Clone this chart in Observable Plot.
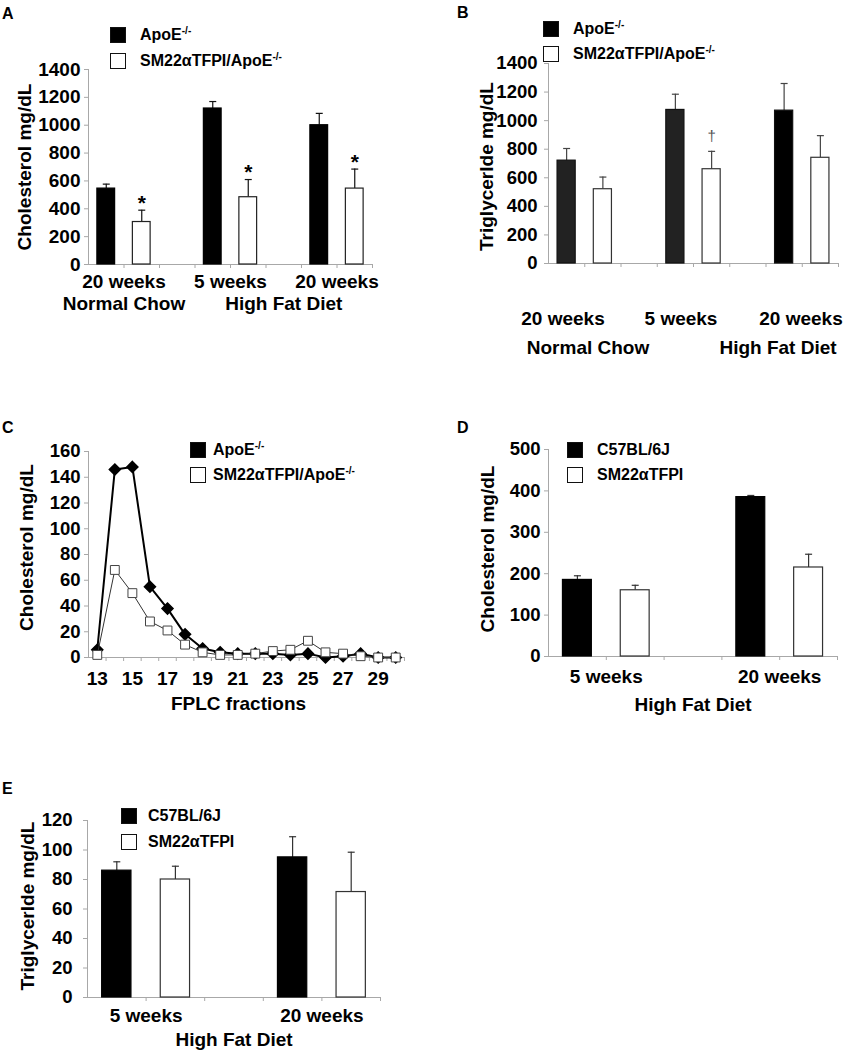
<!DOCTYPE html>
<html><head><meta charset="utf-8">
<script src="https://cdn.jsdelivr.net/npm/d3@7"></script>
<script src="https://cdn.jsdelivr.net/npm/@observablehq/plot@0.6"></script>
<style>
body{margin:0;background:#fff;}
#fig{position:relative;width:852px;height:1050px;overflow:hidden;background:#fff;font-family:"Liberation Sans",Arial,Helvetica,sans-serif;font-weight:bold;color:#000;}
.panel{position:absolute;}
.panel svg{overflow:visible;}
.letter{position:absolute;font-size:16px;line-height:16px;}
.lrow{position:absolute;height:16px;white-space:nowrap;}
.sw{position:absolute;width:16px;height:16px;box-sizing:border-box;border:1.5px solid #111;}
.ltxt{position:absolute;top:0;font-size:16px;line-height:16px;}
.ltxt sup{font-size:10px;position:relative;top:-1px;vertical-align:top;line-height:10px;}
.lbl{position:absolute;font-size:19px;white-space:nowrap;transform:translate(-50%,-50%);}
</style></head><body><div id="fig"></div><script>
// ---------------- data ----------------
const apoeSeries = ["ApoE-/-", "SM22αTFPI/ApoE-/-"];
const wtSeries = ["C57BL/6J", "SM22αTFPI"];
const groupsAB = ["20 weeks", "5 weeks", "20 weeks"];
const dietsAB = ["Normal Chow", "High Fat Diet", "High Fat Diet"];
const groupsDE = ["5 weeks", "20 weeks"];
const dietsDE = ["High Fat Diet", "High Fat Diet"];

// Panel A: plasma cholesterol (mg/dL)
const cholA_apoe = [545, 1120, 1000];
const cholA_apoe_err = [32, 50, 85];
const cholA_tfpi = [305, 483, 545];
const cholA_tfpi_err = [85, 127, 140];
const sigA_tfpi = ["*", "*", "*"];

// Panel B: plasma triglyceride (mg/dL)
const tgB_apoe = [720, 1075, 1070];
const tgB_apoe_err = [85, 110, 190];
const tgB_tfpi = [520, 660, 740];
const tgB_tfpi_err = [85, 125, 155];
const sigB_tfpi = ["", "†", ""];

// Panel C: FPLC cholesterol profile (mg/dL)
const fractions = [13, 14, 15, 16, 17, 18, 19, 20, 21, 22, 23, 24, 25, 26, 27, 28, 29, 30];
const fplcApoe = [6, 146, 148, 55, 38, 18, 7, 4, 3, 3, 3, 2, 3, 0, 1, 3, 0, 0];
const fplcTfpi = [2, 68, 50, 28, 21, 10, 4, 2, 2, 3, 5, 6, 13, 4, 3, 1, 0, 0];
const fractionLabels = [13, 15, 17, 19, 21, 23, 25, 27, 29];

// Panel D: cholesterol (mg/dL)
const cholD_wt = [185, 385];
const cholD_wt_err = [10, 4];
const cholD_tfpi = [160, 215];
const cholD_tfpi_err = [12, 32];

// Panel E: triglyceride (mg/dL)
const tgE_wt = [86, 95];
const tgE_wt_err = [6, 14];
const tgE_tfpi = [80, 71.5];
const tgE_tfpi_err = [9, 27];

// ---------------- helpers ----------------
const FONT = "'Liberation Sans', Arial, Helvetica, sans-serif";
const axisGray = "#a8a8a8";
const fig = document.getElementById("fig");
const capSymbol = {draw(ctx) { ctx.moveTo(-3.5, 0); ctx.lineTo(3.5, 0); }};
const diamondSymbol = {draw(ctx, size) { const r = Math.sqrt(size / 2); ctx.moveTo(0, -r); ctx.lineTo(r, 0); ctx.lineTo(0, r); ctx.lineTo(-r, 0); ctx.closePath(); }};
const plain = d => String(d);

function place(node, left, top) {
  const d = document.createElement("div");
  d.className = "panel";
  d.style.left = left + "px"; d.style.top = top + "px";
  d.appendChild(node);
  fig.appendChild(d);
}
function letter(t, left, top) {
  const d = document.createElement("div");
  d.className = "letter"; d.textContent = t;
  d.style.left = left + "px"; d.style.top = top + "px";
  fig.appendChild(d);
}
function labelHTML(name) {
  const m = name.match(/^(.*?)(-\/-)$/);
  return m ? `${m[1]}<sup>${m[2]}</sup>` : name;
}
function legend(names, fills, left, top, textLeft, pitch) {
  names.forEach((n, i) => {
    const row = document.createElement("div");
    row.className = "lrow";
    row.style.left = left + "px"; row.style.top = (top + i * pitch) + "px";
    const sw = document.createElement("div");
    sw.className = "sw"; sw.style.left = "0px"; sw.style.top = "0px"; sw.style.background = fills[i];
    const tx = document.createElement("div");
    tx.className = "ltxt"; tx.style.left = (textLeft - left) + "px"; tx.innerHTML = labelHTML(n);
    row.appendChild(sw); row.appendChild(tx);
    fig.appendChild(row);
  });
}
function freeLabel(t, cx, cy) {
  const d = document.createElement("div");
  d.className = "lbl"; d.textContent = t;
  d.style.left = cx + "px"; d.style.top = cy + "px";
  fig.appendChild(d);
}
function yLabelMark(text, dx, dy) {
  return Plot.text([text], {frameAnchor: "left", rotate: -90, dx, dy, fontSize: 19, fontWeight: "bold", fill: "#000", textAnchor: "middle", lineAnchor: "middle"});
}

function barPanel(c) {
  const rows = [];
  c.groups.forEach((g, gi) => c.series.forEach((s, si) => {
    rows.push({
      slot: gi * 3 + si,
      value: c.values[si][gi],
      err: c.errs[si][gi],
      flag: c.flags && c.flags[si] ? c.flags[si][gi] : "",
      fill: c.fills[si][gi],
      stroke: c.strokes[si]
    });
  }));
  const nSlots = c.groups.length * 3 - 1;
  const weekLabels = c.groups.map((g, gi) => ({x: gi * 3 + 1, text: g}));
  const dietLabels = Array.from(d3.group(c.groups.map((g, gi) => ({x: gi * 3 + 1, diet: c.diets[gi]})), d => d.diet),
    ([diet, arr]) => ({x: d3.mean(arr, d => d.x), text: diet}));
  const marks = [
    Plot.ruleY([0], {stroke: axisGray}),
    Plot.ruleX([0], {stroke: axisGray}),
    Plot.axisY({ticks: d3.range(0, c.yMax + 1, c.yStep), tickFormat: plain, tickSize: 4, tickPadding: c.tickPad || 4, stroke: axisGray, fill: "#000", fontSize: c.tickFont || 19, fontWeight: "bold", label: null}),
    Plot.axisX({ticks: d3.range(1, nSlots + 1), tickSize: 4, stroke: axisGray, tickFormat: () => "", label: null}),
    Plot.ruleX(rows, {x: d => d.slot + 0.5, y1: "value", y2: d => d.value + d.err, stroke: c.errColor, strokeWidth: 1.2}),
    Plot.dot(rows, {x: d => d.slot + 0.5, y: d => d.value + d.err, symbol: capSymbol, r: 4, fill: "none", stroke: c.errColor, strokeWidth: 1.2}),
    Plot.rect(rows, {x1: d => d.slot + 0.25, x2: d => d.slot + 0.75, y1: () => 0, y2: "value", fill: "fill", stroke: "stroke", strokeWidth: 1.2}),
    Plot.text(rows.filter(d => d.flag === "*"), {x: d => d.slot + 0.5, y: d => d.value + d.err, text: "flag", dy: -7, fontSize: 21, fontWeight: "bold", fill: "#000"}),
    Plot.text(rows.filter(d => d.flag === "†"), {x: d => d.slot + 0.5, y: d => d.value + d.err, text: "flag", dy: -15, fontSize: 15, fontWeight: "normal", fill: "#555"}),
    yLabelMark(c.yLabel, c.labelDx, c.labelDy)
  ];
  if (c.groupLabels) {
    marks.push(Plot.text(weekLabels, {x: "x", text: "text", frameAnchor: "bottom", lineAnchor: "middle", dy: c.weekDy, fontSize: 19, fontWeight: "bold", fill: "#000"}));
    marks.push(Plot.text(dietLabels, {x: "x", text: "text", frameAnchor: "bottom", lineAnchor: "middle", dy: c.dietDy, fontSize: 19, fontWeight: "bold", fill: "#000"}));
  }
  return Plot.plot({
    width: c.width, height: c.height,
    marginLeft: c.ml, marginRight: c.mr, marginTop: c.mt, marginBottom: c.mb,
    style: {background: "transparent", fontFamily: FONT, fontSize: "19px", fontWeight: "bold", color: "#000"},
    x: {domain: [0, nSlots]},
    y: {domain: [0, c.yMax]},
    color: {type: "identity"},
    marks
  });
}

// ---------------- Panel A ----------------
place(barPanel({
  groups: groupsAB, diets: dietsAB, series: apoeSeries,
  values: [cholA_apoe, cholA_tfpi], errs: [cholA_apoe_err, cholA_tfpi_err], flags: [null, sigA_tfpi],
  fills: [["#000", "#000", "#000"], ["#fff", "#fff", "#fff"]], strokes: ["#000", "#222"], errColor: "#111",
  yMax: 1400, yStep: 200, yLabel: "Cholesterol mg/dL", labelDx: -64, labelDy: 0,
  groupLabels: true, weekDy: 17, dietDy: 39,
  width: 400, height: 320, ml: 88, mr: 28, mt: 69, mb: 56
}), 0, 0);
letter("A", 2, 6);
legend(apoeSeries, ["#000", "#fff"], 110, 27, 140, 26);

// ---------------- Panel B ----------------
place(barPanel({
  groups: groupsAB, diets: dietsAB, series: apoeSeries,
  values: [tgB_apoe, tgB_tfpi], errs: [tgB_apoe_err, tgB_tfpi_err], flags: [null, sigB_tfpi],
  fills: [["#222", "#222", "#000"], ["#fff", "#fff", "#fff"]], strokes: ["#111", "#333"], errColor: "#444",
  yMax: 1400, yStep: 200, yLabel: "Triglycerlde mg/dL", labelDx: -62, labelDy: 3, tickFont: 18.5, tickPad: 7,
  groupLabels: false,
  width: 432, height: 300, ml: 128, mr: 14, mt: 63, mb: 37
}), 420, 0);
letter("B", 457, 5);
legend(apoeSeries, ["#000", "#fff"], 543, 21, 573, 25);
groupsAB.forEach((g, i) => freeLabel(g, [563, 681, 801][i], 319));
freeLabel(dietsAB[0], 588, 348);
freeLabel(dietsAB[1], 778, 348);

// ---------------- Panel C ----------------
const rowsApoe = fractions.map((f, i) => ({f, v: fplcApoe[i]}));
const rowsTfpi = fractions.map((f, i) => ({f, v: fplcTfpi[i]}));
place(Plot.plot({
  width: 420, height: 330, marginLeft: 88, marginRight: 16, marginTop: 61, marginBottom: 63,
  style: {background: "transparent", fontFamily: FONT, fontSize: "19px", fontWeight: "bold", color: "#000"},
  x: {domain: [fractions[0] - 0.5, fractions[fractions.length - 1] + 0.5]},
  y: {domain: [0, 160]},
  marks: [
    Plot.ruleY([0], {stroke: axisGray}),
    Plot.ruleX([fractions[0] - 0.5], {stroke: axisGray}),
    Plot.axisY({ticks: d3.range(0, 161, 20), tickFormat: plain, tickSize: 4, tickPadding: 4, stroke: axisGray, fill: "#000", fontSize: 18.5, fontWeight: "bold", label: null}),
    Plot.axisX({ticks: fractions.map(f => f + 0.5), tickSize: 4, stroke: axisGray, tickFormat: () => "", label: null}),
    Plot.axisX({ticks: fractionLabels, tickFormat: plain, tickSize: 0, tickPadding: 14, fill: "#000", fontSize: 19, fontWeight: "bold", label: null}),
    Plot.line(rowsApoe, {x: "f", y: "v", stroke: "#000", strokeWidth: 2}),
    Plot.dot(rowsApoe, {x: "f", y: "v", symbol: diamondSymbol, r: 4.4, fill: "#000", stroke: "#000"}),
    Plot.line(rowsTfpi, {x: "f", y: "v", stroke: "#333", strokeWidth: 1}),
    Plot.dot(rowsTfpi, {x: "f", y: "v", symbol: "square", r: 5, fill: "#fff", stroke: "#444", strokeWidth: 1}),
    Plot.text(["FPLC fractions"], {frameAnchor: "bottom", lineAnchor: "middle", dx: -8, dy: 46, fontSize: 19, fontWeight: "bold", fill: "#000"}),
    yLabelMark("Cholesterol mg/dL", -62, -7)
  ]
}), 0, 390);
letter("C", 2, 420);
legend(apoeSeries, ["#000", "#fff"], 190, 442, 213, 25);

// ---------------- Panel D ----------------
place(barPanel({
  groups: groupsDE, diets: dietsDE, series: wtSeries,
  values: [cholD_wt, cholD_tfpi], errs: [cholD_wt_err, cholD_tfpi_err], flags: null,
  fills: [["#000", "#000"], ["#fff", "#fff"]], strokes: ["#000", "#333"], errColor: "#333",
  yMax: 500, yStep: 100, yLabel: "Cholesterol mg/dL", labelDx: -61, labelDy: -4, tickFont: 18.5,
  groupLabels: true, weekDy: 20, dietDy: 48,
  width: 432, height: 330, ml: 128, mr: 15, mt: 59, mb: 64
}), 420, 390);
letter("D", 457, 420);
legend(wtSeries, ["#000", "#fff"], 567, 442, 597, 25);

// ---------------- Panel E ----------------
place(barPanel({
  groups: groupsDE, diets: dietsDE, series: wtSeries,
  values: [tgE_wt, tgE_tfpi], errs: [tgE_wt_err, tgE_tfpi_err], flags: null,
  fills: [["#000", "#000"], ["#fff", "#fff"]], strokes: ["#000", "#333"], errColor: "#333",
  yMax: 120, yStep: 20, yLabel: "Triglycerlde mg/dL", labelDx: -60, labelDy: -3, tickFont: 18.5, tickPad: 11,
  groupLabels: true, weekDy: 18, dietDy: 42,
  width: 500, height: 310, ml: 87, mr: 120, mt: 80, mb: 53
}), 0, 740);
letter("E", 2, 781);
legend(wtSeries, ["#000", "#fff"], 121, 808, 148, 26);
</script></body></html>
